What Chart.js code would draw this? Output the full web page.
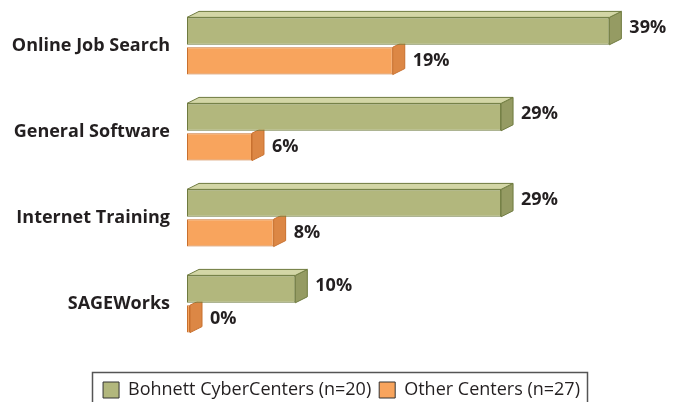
<!DOCTYPE html>
<html>
<head>
<meta charset="utf-8">
<script src="https://cdn.jsdelivr.net/npm/chart.js@4.4.1/dist/chart.umd.min.js"></script>
<style>
  html, body { margin: 0; padding: 0; background: #fff; }
  #wrap { width: 683px; height: 402px; }
</style>
</head>
<body>
<div id="wrap"><canvas id="chart"></canvas></div>
<script>
const categories = ['Online Job Search', 'General Software', 'Internet Training', 'SAGEWorks'];
const bohnettValues = [39, 29, 29, 10];
const otherValues = [19, 6, 8, 0];
const seriesNames = ['Bohnett CyberCenters (n=20)', 'Other Centers (n=27)'];

const textColor = '#231f20';
const DX = 12, DY = 6;   // depth of the fake 3d faces

/* side / top faces, drawn under the front faces */
const bars3d = {
  id: 'bars3d',
  beforeDatasetsDraw(chart) {
    const ctx = chart.ctx;
    [1, 0].forEach(i => {
      const ds = chart.data.datasets[i];
      chart.getDatasetMeta(i).data.forEach(bar => {
        const p = bar.getProps(['x', 'y', 'base', 'height'], true);
        const top = p.y - p.height / 2, bot = p.y + p.height / 2;
        const l = p.base, r = p.x;
        ctx.save();
        ctx.lineWidth = 1;
        ctx.strokeStyle = ds.borderColor;
        ctx.beginPath();
        ctx.moveTo(r, top);
        ctx.lineTo(r + DX, top - DY);
        ctx.lineTo(r + DX, bot - DY);
        ctx.lineTo(r, bot);
        ctx.closePath();
        ctx.fillStyle = ds.sideColor;
        ctx.fill();
        ctx.stroke();
        if (i === 0) {
          ctx.beginPath();
          ctx.moveTo(l, top);
          ctx.lineTo(l + DX, top - DY);
          ctx.lineTo(r + DX, top - DY);
          ctx.lineTo(r, top);
          ctx.closePath();
          ctx.fillStyle = ds.topColor;
          ctx.fill();
          ctx.stroke();
        }
        ctx.restore();
      });
    });
  },
  afterDatasetsDraw(chart) {
    const ctx = chart.ctx;
    ctx.save();
    ctx.font = 'bold 18px "Open Sans"';
    ctx.fillStyle = textColor;
    ctx.textAlign = 'left';
    ctx.textBaseline = 'middle';
    chart.data.datasets.forEach((ds, i) => {
      chart.getDatasetMeta(i).data.forEach((bar, j) => {
        const p = bar.getProps(['x', 'y'], true);
        const dy = i === 0 ? -3 : 0;
        ctx.fillText(ds.data[j] + '%', p.x + DX + 8, p.y + dy);
      });
    });
    ctx.restore();
  }
};

/* frame round the legend */
const legendFrame = {
  id: 'legendFrame',
  afterDraw(chart) {
    const lg = chart.legend;
    const boxes = lg.legendHitBoxes;
    if (!boxes || !boxes.length) return;
    const last = boxes[boxes.length - 1];
    const left = Math.round(boxes[0].left - 11);
    const right = Math.round(last.left + last.width + 7);
    const ctx = chart.ctx;
    ctx.save();
    ctx.strokeStyle = '#555555';
    ctx.lineWidth = 1.5;
    ctx.strokeRect(left + 0.5, Math.round(lg.top - 1) + 0.5, right - left, 60);
    ctx.restore();
  }
};

new Chart(document.getElementById('chart'), {
  type: 'bar',
  data: {
    labels: categories,
    datasets: [{
      label: seriesNames[0],
      data: bohnettValues,
      backgroundColor: '#b2b77d',
      borderColor: '#6e7a3e',
      topColor: '#d3d6a6',
      sideColor: '#959b63',
      borderWidth: 1,
      borderSkipped: false
    }, {
      label: seriesNames[1],
      data: otherValues,
      backgroundColor: '#f8a45d',
      borderColor: '#c8702e',
      sideColor: '#dc8745',
      borderWidth: 1,
      borderSkipped: false,
      minBarLength: 3
    }]
  },
  options: {
    indexAxis: 'y',
    responsive: true,
    maintainAspectRatio: false,
    animation: false,
    layout: { padding: { top: 3, right: 0, bottom: -7, left: 0 } },
    categoryPercentage: 0.693,
    barPercentage: 0.92,
    scales: {
      x: {
        min: 0,
        max: 45.8,
        grid: { display: false, drawTicks: false },
        border: { display: false },
        ticks: { display: false },
        afterFit(scale) { scale.height = 26; }
      },
      y: {
        grid: { display: false, drawTicks: false },
        border: { display: false },
        ticks: {
          color: textColor,
          padding: 17,
          font: { family: '"Open Sans"', size: 18, weight: 'bold' }
        },
        afterFit(scale) {
          scale.width = 187;
          scale.paddingTop = 0;
          scale.paddingBottom = 0;
        }
      }
    },
    plugins: {
      tooltip: { enabled: false },
      legend: {
        position: 'bottom',
        labels: {
          color: textColor,
          boxWidth: 16,
          boxHeight: 16,
          padding: 8,
          font: { family: '"Open Sans"', size: 18 },
          generateLabels(chart) {
            return Chart.defaults.plugins.legend.labels.generateLabels(chart)
              .map(item => Object.assign(item, { strokeStyle: '#333333', lineWidth: 1 }));
          }
        }
      }
    }
  },
  plugins: [bars3d, legendFrame]
});
</script>
</body>
</html>
